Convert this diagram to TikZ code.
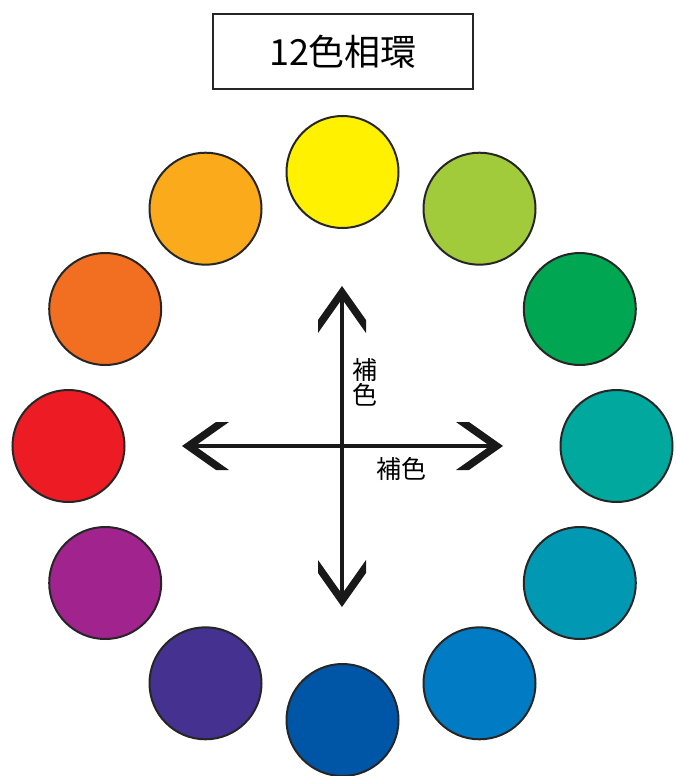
\documentclass[tikz,border=0pt]{standalone}
\usepackage{fontspec}
\newfontfamily\jpfont{Noto Sans CJK JP}
\definecolor{hueA}{RGB}{255,241,0}
\definecolor{hueB}{RGB}{161,203,58}
\definecolor{hueC}{RGB}{0,166,81}
\definecolor{hueD}{RGB}{0,168,157}
\definecolor{hueE}{RGB}{0,152,178}
\definecolor{hueF}{RGB}{0,123,196}
\definecolor{hueG}{RGB}{0,86,166}
\definecolor{hueH}{RGB}{69,49,143}
\definecolor{hueI}{RGB}{160,35,142}
\definecolor{hueJ}{RGB}{237,28,36}
\definecolor{hueK}{RGB}{242,111,33}
\definecolor{hueL}{RGB}{250,170,26}
\tikzset{disc/.style={circle,draw=black!85,line width=2,minimum size=112,inner sep=0}}
\begin{document}
\begin{tikzpicture}[x=1pt,y=-1pt]
\useasboundingbox (0,0) rectangle (675,776);
\node[draw=black!85,line width=2,minimum width=260,minimum height=75,font=\jpfont\fontsize{36}{40}\selectfont] (title) at (343,51.5) {12色相環};
\foreach \c [count=\i from 0] in {hueA,hueB,hueC,hueD,hueE,hueF,hueG,hueH,hueI,hueJ,hueK,hueL}
  \node[disc,fill=\c] (c\i) at ({342.5+274*sin(30*\i)},{446-274*cos(30*\i)}) {};
\coordinate (n) at (342,286);
\coordinate (s) at (342,607);
\coordinate (w) at (182,446);
\coordinate (e) at (503,446);
\draw[line width=3.5,black!90,shorten <=8,shorten >=8] (n)--(s);
\draw[line width=3.5,black!90,shorten <=8,shorten >=8] (w)--(e);
\fill[black!90] (n)--++(-24,34)--++(0,13)--++(24,-34)--++(24,34)--++(0,-13)--cycle;
\fill[black!90] (s)--++(-24,-34)--++(0,-13)--++(24,34)--++(24,-34)--++(0,13)--cycle;
\fill[black!90] (w)--++(34,-24)--++(13,0)--++(-34,24)--++(34,24)--++(-13,0)--cycle;
\fill[black!90] (e)--++(-34,-24)--++(-13,0)--++(34,24)--++(-34,24)--++(13,0)--cycle;
\node[font=\jpfont\fontsize{25}{25}\selectfont,align=center,inner sep=0] (vlab) at (365,382) {補\\色};
\node[font=\jpfont\fontsize{25}{25}\selectfont,inner sep=0] (hlab) at (401,468.5) {補色};
\end{tikzpicture}
\end{document}
